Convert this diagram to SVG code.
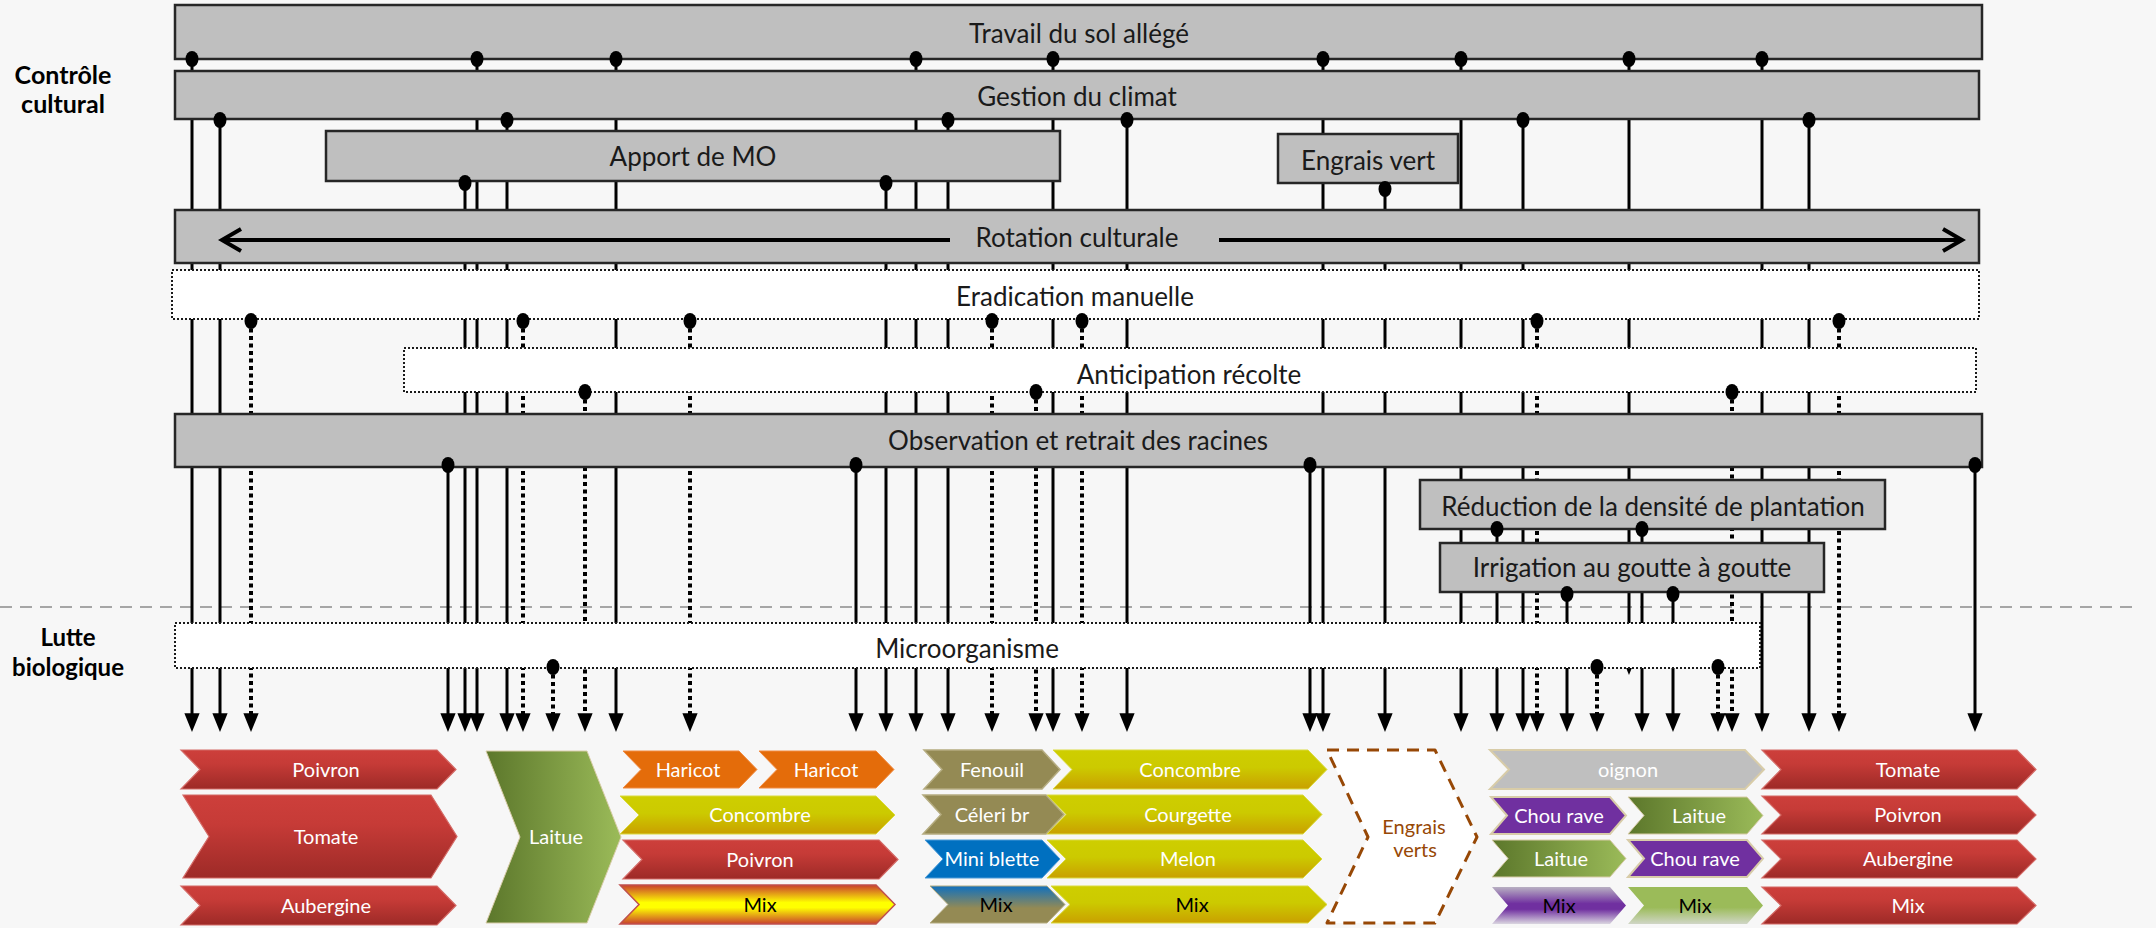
<svg xmlns="http://www.w3.org/2000/svg" width="2156" height="928" viewBox="0 0 2156 928">
<style>
.box{fill:#BFBFBF;stroke:#262626;stroke-width:2.5}
.dbox{fill:#FFFFFF;stroke:#1a1a1a;stroke-width:2;stroke-dasharray:2 2}
.lbl{font-family:Lato,"Liberation Sans",sans-serif;font-size:26px;fill:#1a1a1a;text-anchor:middle}
.cat{font-family:Lato,"Liberation Sans",sans-serif;font-size:24px;font-weight:bold;fill:#000;text-anchor:middle}
.c{stroke:#000;stroke-width:3;fill:none;marker-end:url(#ah)}
.d{stroke:#000;stroke-width:4;fill:none;stroke-dasharray:4 3.5;marker-end:url(#ah)}
.dot{fill:#000}
.cl{font-family:Lato,"Liberation Sans",sans-serif;font-size:20px;fill:#FFFFFF;text-anchor:middle}
.bk{fill:#000}
.red{fill:url(#gRed);stroke:#D46A66;stroke-width:1.2}
.org{fill:#E46C0A;stroke:#F08A40;stroke-width:1}
.yel{fill:url(#gYel);stroke:#DADA40;stroke-width:1}
.kha{fill:#948A54;stroke:#B5AC80;stroke-width:1.5}
.blu{fill:#0070C0;stroke:#4A9AD8;stroke-width:1}
.grn{fill:url(#gGrn);stroke:#D8CCA8;stroke-width:1}
.pur{fill:#7030A0;stroke:#D8CCA8;stroke-width:2}
.gry{fill:#BFBFBF;stroke:#D8CCA8;stroke-width:2}
.rot{stroke:#000;stroke-width:4;fill:none}
</style>
<defs>
<marker id="ah" markerUnits="userSpaceOnUse" markerWidth="20" markerHeight="20" viewBox="0 -8 17 16" refX="10" refY="0" orient="auto">
<path d="M0,-6.5 L16,0 L0,6.5 Z" fill="#000"/>
</marker>
<linearGradient id="gRed" x1="0" y1="0" x2="0" y2="1"><stop offset="0" stop-color="#CD3F3B"/><stop offset="0.35" stop-color="#C63B37"/><stop offset="1" stop-color="#9D2A27"/></linearGradient>
<linearGradient id="gYel" x1="0" y1="0" x2="0" y2="1"><stop offset="0" stop-color="#CECE00"/><stop offset="0.45" stop-color="#CCCA00"/><stop offset="1" stop-color="#C9A000"/></linearGradient>
<linearGradient id="gGrn" x1="0" y1="0" x2="1" y2="0"><stop offset="0" stop-color="#5C772B"/><stop offset="1" stop-color="#9BBB59"/></linearGradient>
<linearGradient id="gMixRY" x1="0" y1="0" x2="0" y2="1"><stop offset="0" stop-color="#C8402E"/><stop offset="0.45" stop-color="#FFFF00"/><stop offset="0.58" stop-color="#FFFF00"/><stop offset="1" stop-color="#C8402E"/></linearGradient>
<linearGradient id="gMixBK" x1="0" y1="0" x2="0" y2="1"><stop offset="0" stop-color="#1070BE"/><stop offset="0.6" stop-color="#948A54"/><stop offset="1" stop-color="#948A54"/></linearGradient>
<linearGradient id="gMixP" x1="0" y1="0" x2="0" y2="1"><stop offset="0" stop-color="#B8B0C2"/><stop offset="0.45" stop-color="#7030A0"/><stop offset="0.6" stop-color="#7030A0"/><stop offset="1" stop-color="#DAD6E0"/></linearGradient>
<linearGradient id="gMixG" x1="0" y1="0" x2="0" y2="1"><stop offset="0" stop-color="#9BBB59"/><stop offset="0.55" stop-color="#9BBB59"/><stop offset="1" stop-color="#D0D6C6"/></linearGradient>
</defs>
<rect x="0" y="0" width="2156" height="928" fill="#F7F7F7"/>

<g id="category-labels">
<text class="cat" x="63" y="84" style="font-size:25px">Contrôle</text>
<text class="cat" x="63" y="113" style="font-size:25px">cultural</text>
<text class="cat" x="68" y="646">Lutte</text>
<text class="cat" x="68" y="676">biologique</text>
</g>
<line x1="0" y1="607" x2="2140" y2="607" stroke="#A6A6A6" stroke-width="2" stroke-dasharray="12 8"/>

<g id="connectors">
<path class="c" d="M192 59V725"/>
<path class="c" d="M477 59V725"/>
<path class="c" d="M616 59V725"/>
<path class="c" d="M916 59V725"/>
<path class="c" d="M1053 59V725"/>
<path class="c" d="M1323 59V725"/>
<path class="c" d="M1461 59V725"/>
<path class="c" d="M1629 59V668"/>
<path class="c" d="M1762 59V725"/>
<path class="c" d="M220 120V725"/>
<path class="c" d="M507 120V725"/>
<path class="c" d="M948 120V725"/>
<path class="c" d="M1127 120V725"/>
<path class="c" d="M1523 120V725"/>
<path class="c" d="M1809 120V725"/>
<path class="c" d="M465 183V725"/>
<path class="c" d="M886 183V725"/>
<path class="c" d="M1385 189V725"/>
<path class="d" d="M251 321V725"/>
<path class="d" d="M523 321V725"/>
<path class="d" d="M690 321V725"/>
<path class="d" d="M992 321V725"/>
<path class="d" d="M1082 321V725"/>
<path class="d" d="M1537 321V725"/>
<path class="d" d="M1839 321V725"/>
<path class="d" d="M585 392V725"/>
<path class="d" d="M1036 392V725"/>
<path class="d" d="M1732 392V725"/>
<path class="c" d="M448 465V725"/>
<path class="c" d="M856 465V725"/>
<path class="c" d="M1310 465V725"/>
<path class="c" d="M1975 465V725"/>
<path class="c" d="M1497 529V725"/>
<path class="c" d="M1642 529V725"/>
<path class="c" d="M1567 594V725"/>
<path class="c" d="M1673 594V725"/>
<path class="d" d="M553 667V725"/>
<path class="d" d="M1597 667V725"/>
<path class="d" d="M1718 667V725"/>
</g>

<g id="node-travail-sol"><rect class="box" x="175" y="5" width="1807" height="54"/><text class="lbl" x="1079" y="43">Travail du sol allégé</text></g>
<g id="node-gestion-climat"><rect class="box" x="175" y="71" width="1804" height="48"/><text class="lbl" x="1077" y="106">Gestion du climat</text></g>
<g id="node-apport-mo"><rect class="box" x="326" y="131" width="734" height="50"/><text class="lbl" x="693" y="166">Apport de MO</text></g>
<g id="node-engrais-vert"><rect class="box" x="1278" y="134" width="180" height="49"/><text class="lbl" x="1368" y="170">Engrais vert</text></g>
<g id="node-rotation"><rect class="box" x="175" y="210" width="1804" height="53"/><text class="lbl" x="1077" y="247">Rotation culturale</text>
<path class="rot" d="M222 240H950M1219 240H1962"/><path class="rot" d="M241 229L222 240L241 251M1943 229L1962 240L1943 251"/></g>
<g id="node-eradication"><rect class="dbox" x="172" y="270" width="1807" height="49"/><text class="lbl" x="1075" y="306">Eradication manuelle</text></g>
<g id="node-anticipation"><rect class="dbox" x="404" y="348" width="1572" height="44"/><text class="lbl" x="1189" y="384">Anticipation récolte</text></g>
<g id="node-observation"><rect class="box" x="175" y="414" width="1807" height="53"/><text class="lbl" x="1078" y="450">Observation et retrait des racines</text></g>
<g id="node-reduction"><rect class="box" x="1420" y="480" width="465" height="49"/><text class="lbl" x="1653" y="516">Réduction de la densité de plantation</text></g>
<g id="node-irrigation"><rect class="box" x="1440" y="543" width="384" height="49"/><text class="lbl" x="1632" y="577">Irrigation au goutte à goutte</text></g>
<g id="node-microorganisme"><rect class="dbox" x="175" y="623" width="1585" height="45"/><text class="lbl" x="967" y="658">Microorganisme</text></g>

<g id="connector-origins">
<ellipse class="dot" cx="192" cy="59" rx="6.5" ry="8"/>
<ellipse class="dot" cx="477" cy="59" rx="6.5" ry="8"/>
<ellipse class="dot" cx="616" cy="59" rx="6.5" ry="8"/>
<ellipse class="dot" cx="916" cy="59" rx="6.5" ry="8"/>
<ellipse class="dot" cx="1053" cy="59" rx="6.5" ry="8"/>
<ellipse class="dot" cx="1323" cy="59" rx="6.5" ry="8"/>
<ellipse class="dot" cx="1461" cy="59" rx="6.5" ry="8"/>
<ellipse class="dot" cx="1629" cy="59" rx="6.5" ry="8"/>
<ellipse class="dot" cx="1762" cy="59" rx="6.5" ry="8"/>
<ellipse class="dot" cx="220" cy="120" rx="6.5" ry="8"/>
<ellipse class="dot" cx="507" cy="120" rx="6.5" ry="8"/>
<ellipse class="dot" cx="948" cy="120" rx="6.5" ry="8"/>
<ellipse class="dot" cx="1127" cy="120" rx="6.5" ry="8"/>
<ellipse class="dot" cx="1523" cy="120" rx="6.5" ry="8"/>
<ellipse class="dot" cx="1809" cy="120" rx="6.5" ry="8"/>
<ellipse class="dot" cx="465" cy="183" rx="6.5" ry="8"/>
<ellipse class="dot" cx="886" cy="183" rx="6.5" ry="8"/>
<ellipse class="dot" cx="1385" cy="189" rx="6.5" ry="8"/>
<ellipse class="dot" cx="251" cy="321" rx="6.5" ry="8"/>
<ellipse class="dot" cx="523" cy="321" rx="6.5" ry="8"/>
<ellipse class="dot" cx="690" cy="321" rx="6.5" ry="8"/>
<ellipse class="dot" cx="992" cy="321" rx="6.5" ry="8"/>
<ellipse class="dot" cx="1082" cy="321" rx="6.5" ry="8"/>
<ellipse class="dot" cx="1537" cy="321" rx="6.5" ry="8"/>
<ellipse class="dot" cx="1839" cy="321" rx="6.5" ry="8"/>
<ellipse class="dot" cx="585" cy="392" rx="6.5" ry="8"/>
<ellipse class="dot" cx="1036" cy="392" rx="6.5" ry="8"/>
<ellipse class="dot" cx="1732" cy="392" rx="6.5" ry="8"/>
<ellipse class="dot" cx="448" cy="465" rx="6.5" ry="8"/>
<ellipse class="dot" cx="856" cy="465" rx="6.5" ry="8"/>
<ellipse class="dot" cx="1310" cy="465" rx="6.5" ry="8"/>
<ellipse class="dot" cx="1975" cy="465" rx="6.5" ry="8"/>
<ellipse class="dot" cx="1497" cy="529" rx="6.5" ry="8"/>
<ellipse class="dot" cx="1642" cy="529" rx="6.5" ry="8"/>
<ellipse class="dot" cx="1567" cy="594" rx="6.5" ry="8"/>
<ellipse class="dot" cx="1673" cy="594" rx="6.5" ry="8"/>
<ellipse class="dot" cx="553" cy="667" rx="6.5" ry="8"/>
<ellipse class="dot" cx="1597" cy="667" rx="6.5" ry="8"/>
<ellipse class="dot" cx="1718" cy="667" rx="6.5" ry="8"/>
</g>

<g id="crop-poivron-1"><polygon class="red" points="181,750 437,750 456,769.5 437,789 181,789 200,769.5"/><text class="cl" x="326" y="777">Poivron</text></g>
<g id="crop-tomate-1"><polygon class="red" points="183,795 431,795 457,836.5 431,878 183,878 209,836.5"/><text class="cl" x="326" y="844">Tomate</text></g>
<g id="crop-aubergine-1"><polygon class="red" points="181,886 437,886 456,905.5 437,925 181,925 200,905.5"/><text class="cl" x="326" y="913">Aubergine</text></g>
<g id="crop-laitue-big"><polygon class="grn" points="486,751 587,751 621,837 587,923 486,923 520,837"/><text class="cl" x="556" y="844">Laitue</text></g>
<g id="crop-haricot-1"><polygon class="org" points="623,751 739,751 757,769.5 739,788 623,788 641,769.5"/><text class="cl" x="688" y="777">Haricot</text></g>
<g id="crop-haricot-2"><polygon class="org" points="759,751 876,751 894,769.5 876,788 759,788 777,769.5"/><text class="cl" x="826" y="777">Haricot</text></g>
<g id="crop-concombre-1"><polygon class="yel" points="620,796 876,796 895,815 876,834 620,834 639,815"/><text class="cl" x="760" y="822">Concombre</text></g>
<g id="crop-poivron-2"><polygon class="red" points="623,840 879,840 898,859.5 879,879 623,879 642,859.5"/><text class="cl" x="760" y="867">Poivron</text></g>
<g id="crop-mix-1"><polygon points="620,885 876,885 895,904.5 876,924 620,924 639,904.5" fill="url(#gMixRY)" stroke="#C0504D" stroke-width="1.5"/><text class="cl bk" x="760" y="912">Mix</text></g>
<g id="crop-fenouil"><polygon class="kha" points="924,750 1042,750 1060,769.5 1042,789 924,789 942,769.5"/><text class="cl" x="992" y="777">Fenouil</text></g>
<g id="crop-concombre-2"><polygon class="yel" points="1053,750 1308,750 1327,769.5 1308,789 1053,789 1072,769.5"/><text class="cl" x="1190" y="777">Concombre</text></g>
<g id="crop-celeri"><polygon class="kha" points="923,795 1046,795 1064,814.5 1046,834 923,834 941,814.5"/><text class="cl" x="992" y="822">Céleri br</text></g>
<g id="crop-courgette"><polygon class="yel" points="1047,795 1303,795 1322,814.5 1303,834 1047,834 1066,814.5"/><text class="cl" x="1188" y="822">Courgette</text></g>
<g id="crop-mini-blette"><polygon class="blu" points="925,840 1042,840 1060,859 1042,878 925,878 943,859"/><text class="cl" x="992" y="866">Mini blette</text></g>
<g id="crop-melon"><polygon class="yel" points="1047,840 1303,840 1322,859 1303,878 1047,878 1066,859"/><text class="cl" x="1188" y="866">Melon</text></g>
<g id="crop-mix-2"><polygon points="930,886 1047,886 1065,904.5 1047,923 930,923 948,904.5" fill="url(#gMixBK)" stroke="#B5AC80" stroke-width="1"/><text class="cl bk" x="996" y="912">Mix</text></g>
<g id="crop-mix-3"><polygon class="yel" points="1051,886 1308,886 1327,904.5 1308,923 1051,923 1070,904.5"/><text class="cl bk" x="1192" y="912">Mix</text></g>
<g id="crop-engrais-verts"><polygon points="1327,750 1435,750 1477,837 1435,923 1327,923 1368,837" fill="#FFFFFF" stroke="#974806" stroke-width="3" stroke-dasharray="12 8" stroke-linejoin="round"/><text class="cl" x="1414" y="834" style="fill:#974806">Engrais</text><text class="cl" x="1415" y="857" style="fill:#974806">verts</text></g>
<g id="crop-oignon"><polygon class="gry" points="1490,750 1745,750 1764,769.5 1745,789 1490,789 1509,769.5"/><text class="cl" x="1628" y="777">oignon</text></g>
<g id="crop-chou-rave-1"><polygon class="pur" points="1491,797 1610,797 1626,815.5 1610,834 1491,834 1507,815.5"/><text class="cl" x="1559" y="823">Chou rave</text></g>
<g id="crop-laitue-1"><polygon class="grn" points="1628,797 1747,797 1763,815.5 1747,834 1628,834 1644,815.5"/><text class="cl" x="1699" y="823">Laitue</text></g>
<g id="crop-laitue-2"><polygon class="grn" points="1492,840 1610,840 1626,858.5 1610,877 1492,877 1508,858.5"/><text class="cl" x="1561" y="866">Laitue</text></g>
<g id="crop-chou-rave-2"><polygon class="pur" points="1628,840 1747,840 1763,858.5 1747,877 1628,877 1644,858.5"/><text class="cl" x="1695" y="866">Chou rave</text></g>
<g id="crop-mix-4"><polygon points="1492,887 1610,887 1626,905.5 1610,924 1492,924 1508,905.5" fill="url(#gMixP)"/><text class="cl bk" x="1559" y="913">Mix</text></g>
<g id="crop-mix-5"><polygon points="1628,887 1747,887 1763,905.5 1747,924 1628,924 1644,905.5" fill="url(#gMixG)"/><text class="cl bk" x="1695" y="913">Mix</text></g>
<g id="crop-tomate-2"><polygon class="red" points="1762,750 2017,750 2036,769.5 2017,789 1762,789 1781,769.5"/><text class="cl" x="1908" y="777">Tomate</text></g>
<g id="crop-poivron-3"><polygon class="red" points="1762,796 2017,796 2036,815 2017,834 1762,834 1781,815"/><text class="cl" x="1908" y="822">Poivron</text></g>
<g id="crop-aubergine-2"><polygon class="red" points="1762,840 2017,840 2036,859 2017,878 1762,878 1781,859"/><text class="cl" x="1908" y="866">Aubergine</text></g>
<g id="crop-mix-6"><polygon class="red" points="1762,887 2017,887 2036,905.5 2017,924 1762,924 1781,905.5"/><text class="cl" x="1908" y="913">Mix</text></g>
</svg>
